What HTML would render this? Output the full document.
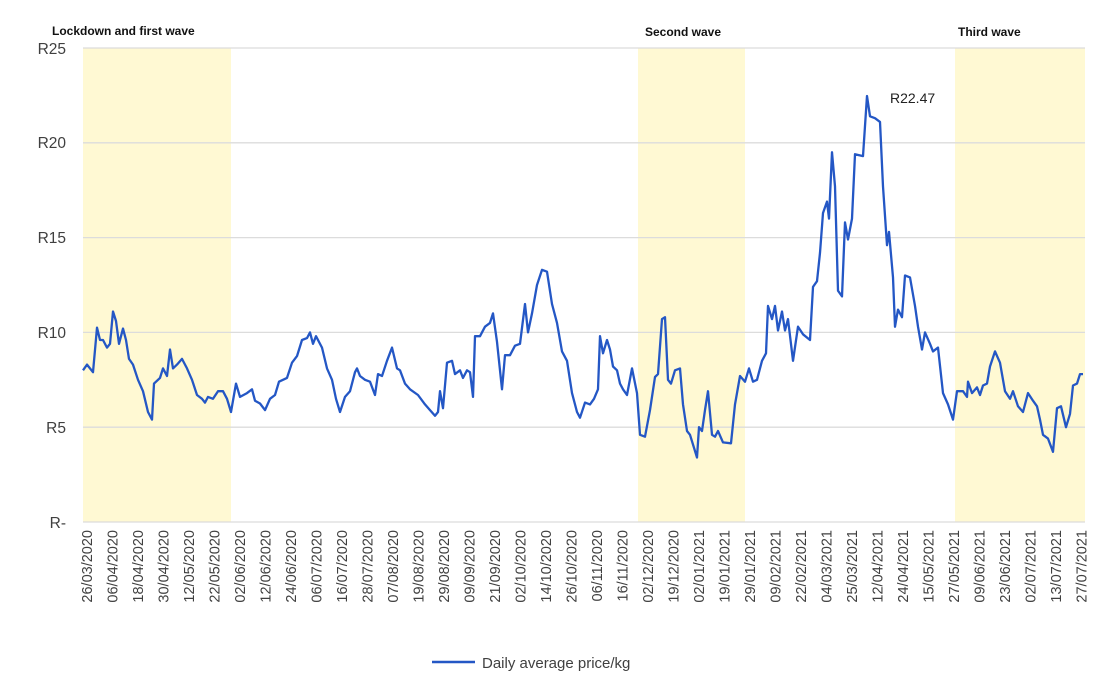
<!DOCTYPE html>
<html><head><meta charset="utf-8"><style>
body{margin:0;background:#fff;}
svg{display:block;font-family:"Liberation Sans",sans-serif;}
</style></head><body>
<svg id="s" width="1117" height="695" viewBox="0 0 1117 695">
<rect x="83" y="48" width="148" height="474" fill="#fff9d3"/>
<rect x="638" y="48" width="107" height="474" fill="#fff9d3"/>
<rect x="955" y="48" width="130" height="474" fill="#fff9d3"/>
<g stroke="#dcdcdc" stroke-width="1.3">
<line x1="83" x2="1085" y1="48" y2="48"/><line x1="83" x2="1085" y1="142.8" y2="142.8"/>
<line x1="83" x2="1085" y1="237.6" y2="237.6"/><line x1="83" x2="1085" y1="332.4" y2="332.4"/>
<line x1="83" x2="1085" y1="427.2" y2="427.2"/><line x1="83" x2="1085" y1="522" y2="522"/>
</g>
<g font-size="15.5" fill="#404040" text-anchor="end">
<text x="66" y="54">R25</text><text x="66" y="148">R20</text><text x="66" y="243">R15</text>
<text x="66" y="338">R10</text><text x="66" y="433">R5</text><text x="66" y="528">R-</text>
</g>
<g font-size="12" font-weight="bold" fill="#111">
<text x="52" y="35">Lockdown and first wave</text>
<text x="645" y="36">Second wave</text>
<text x="958" y="36">Third wave</text>
</g>
<text x="890" y="103" font-size="14" fill="#222">R22.47</text>
<polyline id="p" fill="none" stroke="#2457c5" stroke-width="2.3" stroke-linejoin="round"/>
<g id="xl" font-size="14.5" fill="#404040"></g>
<line x1="432" x2="475" y1="662" y2="662" stroke="#2457c5" stroke-width="2.5"/>
<text x="482" y="668" font-size="15" fill="#404040">Daily average price/kg</text>
</svg>
<script>
var d=[83,8.0,87,8.3,93,7.9,97,10.25,100,9.6,103,9.6,107,9.2,110,9.4,113,11.1,116,10.6,119,9.4,123,10.2,126,9.6,129,8.6,133,8.3,138,7.5,143,6.9,148,5.8,152,5.4,154,7.3,160,7.6,163,8.1,167,7.7,170,9.1,173,8.1,177,8.3,182,8.6,187,8.1,192,7.5,197,6.7,202,6.5,205,6.3,208,6.6,213,6.5,218,6.9,223,6.9,227,6.5,231,5.8,236,7.3,240,6.6,247,6.8,252,7.0,255,6.4,260,6.25,265,5.9,270,6.5,275,6.7,279,7.4,287,7.6,292,8.4,297,8.75,302,9.6,307,9.7,310,10.0,313,9.4,316,9.8,322,9.2,327,8.1,332,7.5,336,6.5,340,5.8,345,6.6,350,6.9,355,7.9,357,8.1,360,7.7,365,7.5,370,7.4,375,6.7,378,7.8,382,7.7,387,8.5,392,9.2,397,8.1,400,8.0,405,7.3,410,7.0,418,6.7,425,6.2,430,5.9,435,5.6,438,5.8,440,6.9,443,6.0,447,8.4,452,8.5,455,7.8,460,8.0,463,7.6,467,8.0,470,7.9,473,6.6,475,9.8,480,9.8,485,10.3,490,10.5,493,11.0,497,9.5,502,7.0,505,8.8,510,8.8,515,9.3,520,9.4,525,11.5,528,10.0,532,11.0,537,12.5,542,13.3,547,13.2,552,11.5,557,10.5,562,9.0,567,8.5,572,6.8,577,5.8,580,5.5,585,6.3,590,6.2,594,6.5,598,7.0,600,9.8,603,8.9,607,9.6,610,9.1,613,8.2,617,8.0,620,7.3,623,7.0,627,6.7,632,8.1,637,6.8,640,4.6,645,4.5,650,5.9,655,7.65,658,7.8,662,10.7,665,10.8,668,7.5,671,7.3,675,8.0,680,8.1,683,6.2,687,4.8,690,4.6,697,3.4,699,5.0,702,4.8,705,5.9,708,6.9,712,4.6,715,4.5,718,4.8,723,4.2,731,4.15,735,6.2,740,7.7,745,7.4,749,8.1,753,7.4,757,7.5,762,8.5,766,8.9,768,11.4,772,10.7,775,11.4,778,10.1,782,11.1,785,10.1,788,10.7,793,8.5,798,10.3,803,9.9,810,9.6,813,12.4,817,12.7,820,14.2,823,16.3,827,16.9,829,16.0,832,19.5,835,17.7,838,12.2,842,11.9,845,15.8,848,14.9,852,16.0,855,19.4,863,19.3,867,22.47,870,21.4,875,21.3,880,21.1,883,17.7,887,14.6,889,15.3,893,12.9,895,10.3,898,11.2,902,10.8,905,13.0,910,12.9,915,11.4,918,10.3,922,9.1,925,10.0,930,9.4,933,9.0,938,9.2,943,6.8,948,6.2,953,5.4,957,6.9,963,6.9,967,6.6,968,7.4,972,6.8,977,7.1,980,6.7,983,7.2,987,7.3,990,8.2,995,9.0,1000,8.4,1005,6.9,1010,6.5,1013,6.9,1018,6.1,1023,5.8,1028,6.8,1033,6.4,1037,6.1,1040,5.4,1043,4.6,1048,4.4,1053,3.7,1057,6.0,1061,6.1,1066,5.0,1070,5.7,1073,7.2,1077,7.3,1080,7.8,1083,7.8];
var pts=[];for(var i=0;i<d.length;i+=2)pts.push(d[i]+","+(522-d[i+1]*18.96).toFixed(1));
document.getElementById("p").setAttribute("points",pts.join(" "));
var L="26/03/2020 06/04/2020 18/04/2020 30/04/2020 12/05/2020 22/05/2020 02/06/2020 12/06/2020 24/06/2020 06/07/2020 16/07/2020 28/07/2020 07/08/2020 19/08/2020 29/08/2020 09/09/2020 21/09/2020 02/10/2020 14/10/2020 26/10/2020 06/11/2020 16/11/2020 02/12/2020 19/12/2020 02/01/2021 19/01/2021 29/01/2021 09/02/2021 22/02/2021 04/03/2021 25/03/2021 12/04/2021 24/04/2021 15/05/2021 27/05/2021 09/06/2021 23/06/2021 02/07/2021 13/07/2021 27/07/2021".split(" ");
var g=document.getElementById("xl"),h="";
for(var i=0;i<L.length;i++){var x=87+i*25.5+5;h+='<text transform="translate('+x.toFixed(1)+',530) rotate(-90)" text-anchor="end">'+L[i]+'</text>';}
g.innerHTML=h;
</script>
</body></html>
